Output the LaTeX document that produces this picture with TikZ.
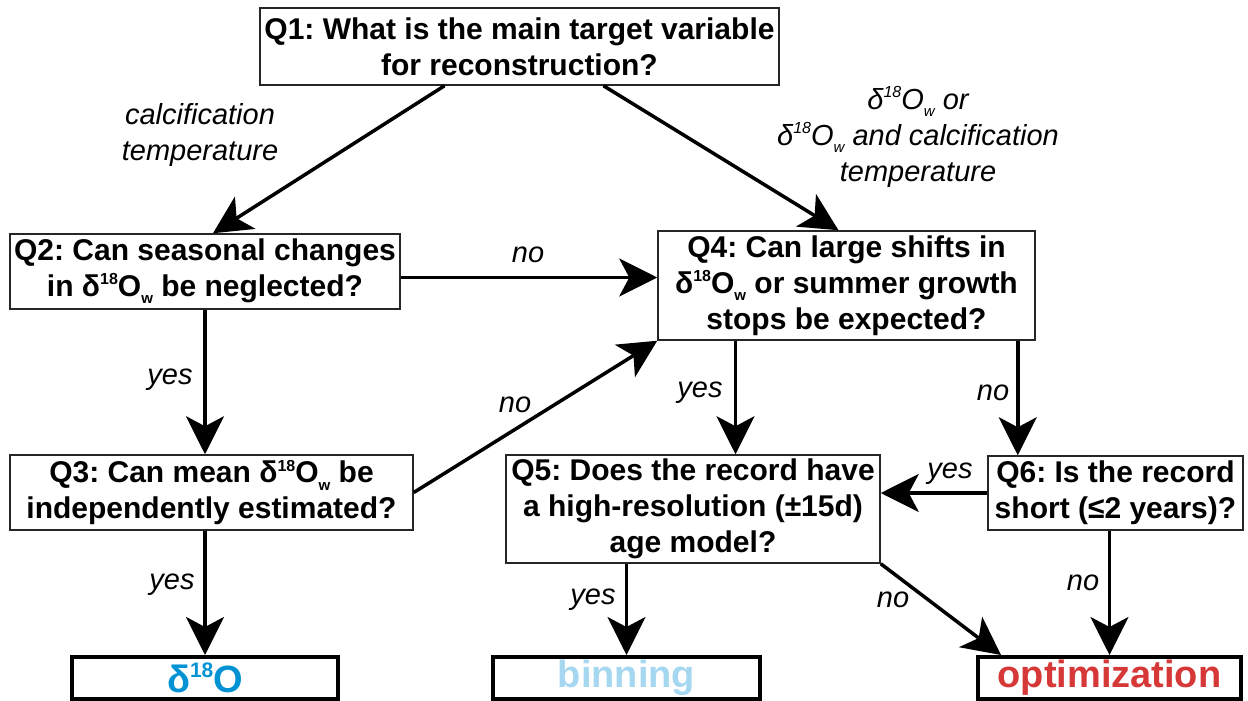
\documentclass[tikz,border=0pt]{standalone}
\usepackage{fontspec}
\setmainfont{Liberation Sans}
\usetikzlibrary{arrows.meta}
\definecolor{dblue}{RGB}{0,146,210}
\definecolor{lblue}{RGB}{165,215,240}
\definecolor{optred}{RGB}{214,56,56}
\frenchspacing
\newcommand{\upe}[2][16]{\raisebox{0.75ex}{\fontsize{#1}{#1}\selectfont #2}}
\newcommand{\dne}[1]{\raisebox{-0.45ex}{\fontsize{15}{15}\selectfont #1}}
\newcommand{\dOw}{δ\upe{18}O\dne{w}}

\begin{document}
\begin{tikzpicture}[x=1pt, y=-1pt,
  qbox/.style={draw=black!85, line width=1.5pt, align=center, inner sep=0pt,
    font=\bfseries\fontsize{30}{36}\selectfont},
  endbox/.style={draw=black, line width=4pt, inner sep=0pt, minimum height=42pt,
    font=\bfseries\fontsize{38}{40}\selectfont},
  lbl/.style={font=\itshape\fontsize{29}{36}\selectfont, align=center, inner sep=0pt},
  arr/.style={line width=3.5pt, -{Stealth[length=38pt,width=38pt,inset=10pt]}}]
\useasboundingbox (0,0) rectangle (1248,701);
% questions
\node[qbox, minimum width=519pt, minimum height=77pt] (q1) at (519.5,46.5) {Q1: What is the main target variable\\for reconstruction?};
\node[qbox, minimum width=390pt, minimum height=75pt] (q2) at (205,271.5) {Q2: Can seasonal changes\\in \dOw{} be neglected?};
\node[qbox, minimum width=377pt, minimum height=109pt] (q4) at (846.5,285.5) {Q4: Can large shifts in\\\dOw{} or summer growth\\stops be expected?};
\node[qbox, minimum width=403pt, minimum height=75pt] (q3) at (211.5,492.5) {Q3: Can mean \dOw{} be\\independently estimated?};
\node[qbox, minimum width=374pt, minimum height=108pt] (q5) at (693,509) {Q5: Does the record have\\a high-resolution (±15d)\\age model?};
\node[qbox, minimum width=255pt, minimum height=74pt] (q6) at (1115.5,493) {Q6: Is the record\\short (≤2 years)?};
% outcomes
\node[endbox, minimum width=266pt, text=dblue] (d18o) at (205,678) {δ\upe[21]{18}O};
\node[endbox, minimum width=267pt, text=lblue] (binning) at (626.5,678) {binning};
\node[endbox, minimum width=263pt, text=optred] (optim) at (1109.5,678) {optimization};
% arrows
\draw[arr] ([xshift=-75pt]q1.south) -- ([xshift=8pt]q2.north);
\draw[arr] ([xshift=84pt]q1.south) -- ([xshift=-8pt]q4.north);
\draw[arr] ([yshift=-6pt]q2.east) -- ([yshift=-6pt]q2.east -| q4.west);
\draw[arr] (q2.south) -- (q2.south |- q3.north);
\draw[arr] (q3.east) -- (q4.south west);
\draw[arr] ([xshift=-111pt]q4.south) -- ([xshift=-111pt]q4.south |- q5.north);
\draw[arr] ([xshift=-18pt]q4.south east) -- ([xshift=-18pt]q4.south east |- q6.north);
\draw[arr] (q6.west) -- (q6.west -| q5.east);
\draw[arr] (d18o.north |- q3.south) -- (d18o.north);
\draw[arr] (binning.north |- q5.south) -- (binning.north);
\draw[arr] (q5.south east) -- ([xshift=25pt]optim.north west);
\draw[arr] (optim.north |- q6.south) -- (optim.north);
% labels
\node[lbl] (lcalc) at (200,135) {calcification\\temperature};
\node[lbl] (lwater) at (918,137) {\dOw{} or\\\dOw{} and calcification\\temperature};
\node[lbl] (lno1) at (528,255) {no};
\node[lbl] (lyes1) at (170,380) {yes};
\node[lbl] (lno2) at (515,405) {no};
\node[lbl] (lyes2) at (700,393) {yes};
\node[lbl] (lno3) at (993,393) {no};
\node[lbl] (lyes3) at (950,474) {yes};
\node[lbl] (lyes4) at (172,585) {yes};
\node[lbl] (lyes5) at (593,600) {yes};
\node[lbl] (lno4) at (893,600) {no};
\node[lbl] (lno5) at (1083,583) {no};
\end{tikzpicture}
\end{document}
